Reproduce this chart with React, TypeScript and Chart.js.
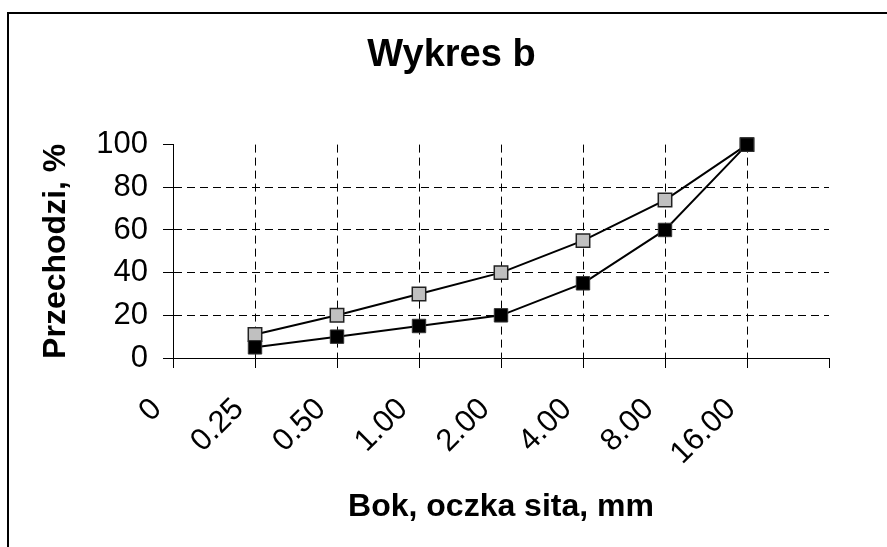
import React, { useEffect, useRef } from 'react';
import { Chart, registerables } from 'chart.js';

Chart.register(...registerables);

const categories = ['0', '0.25', '0.50', '1.00', '2.00', '4.00', '8.00', '16.00', ''];
const seriesGray = [null, 11, 20, 30, 40, 55, 74, 100, null];
const seriesBlack = [null, 5, 10, 15, 20, 35, 60, 100, null];
const yTicks = [0, 20, 40, 60, 80, 100];
const titleText = 'Wykres b';
const xTitle = 'Bok, oczka sita, mm';
const yTitle = 'Przechodzi, %';

const FAMILY = "'Liberation Sans', Arial, sans-serif";

export default function App() {
  const ref = useRef<HTMLCanvasElement | null>(null);

  useEffect(() => {
    if (!ref.current) return;
    const last = categories.length - 1;
    const chart = new Chart(ref.current, {
      type: 'line',
      data: {
        labels: categories,
        datasets: [
          {
            label: 'b2',
            data: seriesBlack,
            borderColor: '#000',
            borderWidth: 2,
            pointStyle: 'rect',
            pointRadius: 9.5,
            pointBackgroundColor: '#000',
            pointBorderColor: '#333',
            pointBorderWidth: 1,
            tension: 0,
            clip: false,
          },
          {
            label: 'b1',
            data: seriesGray,
            borderColor: '#000',
            borderWidth: 2,
            pointStyle: 'rect',
            pointRadius: 9.5,
            pointBackgroundColor: '#c0c0c0',
            pointBorderColor: '#222',
            pointBorderWidth: 1.5,
            tension: 0,
            clip: false,
          },
        ],
      },
      options: {
        responsive: false,
        animation: false,
        events: [],
        layout: { padding: { left: 0, right: 0, top: 0, bottom: 0 } },
        plugins: {
          legend: { display: false },
          tooltip: { enabled: false },
          title: {
            display: true,
            text: titleText,
            color: '#000',
            font: { family: FAMILY, size: 38, weight: 'bold', lineHeight: 1.2 },
            padding: { top: 33, bottom: 66 },
          },
        },
        scales: {
          x: {
            type: 'category',
            offset: false,
            grid: {
              offset: false,
              color: (ctx: any) => (ctx.index === 0 || ctx.index === last ? 'rgba(0,0,0,0)' : '#000'),
              lineWidth: 1,
              tickColor: '#000',
              tickLength: 10,
              tickWidth: 1,
            },
            border: { display: true, color: '#000', width: 1, dash: [8, 5] },
            ticks: {
              color: '#000',
              font: { family: FAMILY, size: 31 },
              minRotation: 45,
              maxRotation: 45,
              autoSkip: false,
              padding: 23,
              labelOffset: -16,
            },
            title: {
              display: true,
              text: xTitle,
              color: '#000',
              font: { family: FAMILY, size: 32, weight: 'bold', lineHeight: 1.2 },
              padding: { top: 0, bottom: 21 },
            },
            afterFit: (s: any) => {
              s.height = 189;
            },
          },
          y: {
            min: 0,
            max: 100,
            afterBuildTicks: (s: any) => {
              s.ticks = yTicks.map((v) => ({ value: v }));
            },
            grid: {
              color: (ctx: any) =>
                ctx.tick && (ctx.tick.value === yTicks[0] || ctx.tick.value === yTicks[yTicks.length - 1])
                  ? 'rgba(0,0,0,0)'
                  : '#000',
              lineWidth: 1,
              tickColor: '#000',
              tickLength: 10,
              tickWidth: 1,
            },
            border: { display: true, color: '#000', width: 1, dash: [8, 5] },
            ticks: {
              color: '#000',
              font: { family: FAMILY, size: 31 },
              padding: 15,
            },
            title: {
              display: true,
              text: yTitle,
              color: '#000',
              font: { family: FAMILY, size: 32, weight: 'bold', lineHeight: 1.2 },
              padding: { top: 29, bottom: 0 },
            },
            afterFit: (s: any) => {
              s.width = 165;
            },
          },
          yRight: {
            position: 'right',
            display: true,
            min: 0,
            max: 100,
            grid: { display: false, drawOnChartArea: false, drawTicks: false },
            border: { display: false },
            ticks: { display: false },
            afterFit: (s: any) => {
              s.width = 66;
            },
          },
        },
      },
    } as any);
    return () => chart.destroy();
  }, []);

  return (
    <div
      style={{
        position: 'fixed',
        left: 0,
        top: 0,
        width: 887,
        height: 547,
        overflow: 'hidden',
        background: '#fff',
      }}
    >
      <div
        style={{
          position: 'absolute',
          left: 7,
          top: 12,
          width: 1200,
          height: 1200,
          borderTop: '2px solid #000',
          borderLeft: '2px solid #000',
        }}
      />
      <div style={{ position: 'absolute', left: 8, top: 0, width: 887, height: 547 }}>
        <canvas ref={ref} width={887} height={547} style={{ width: 887, height: 547, display: 'block' }} />
      </div>
    </div>
  );
}
